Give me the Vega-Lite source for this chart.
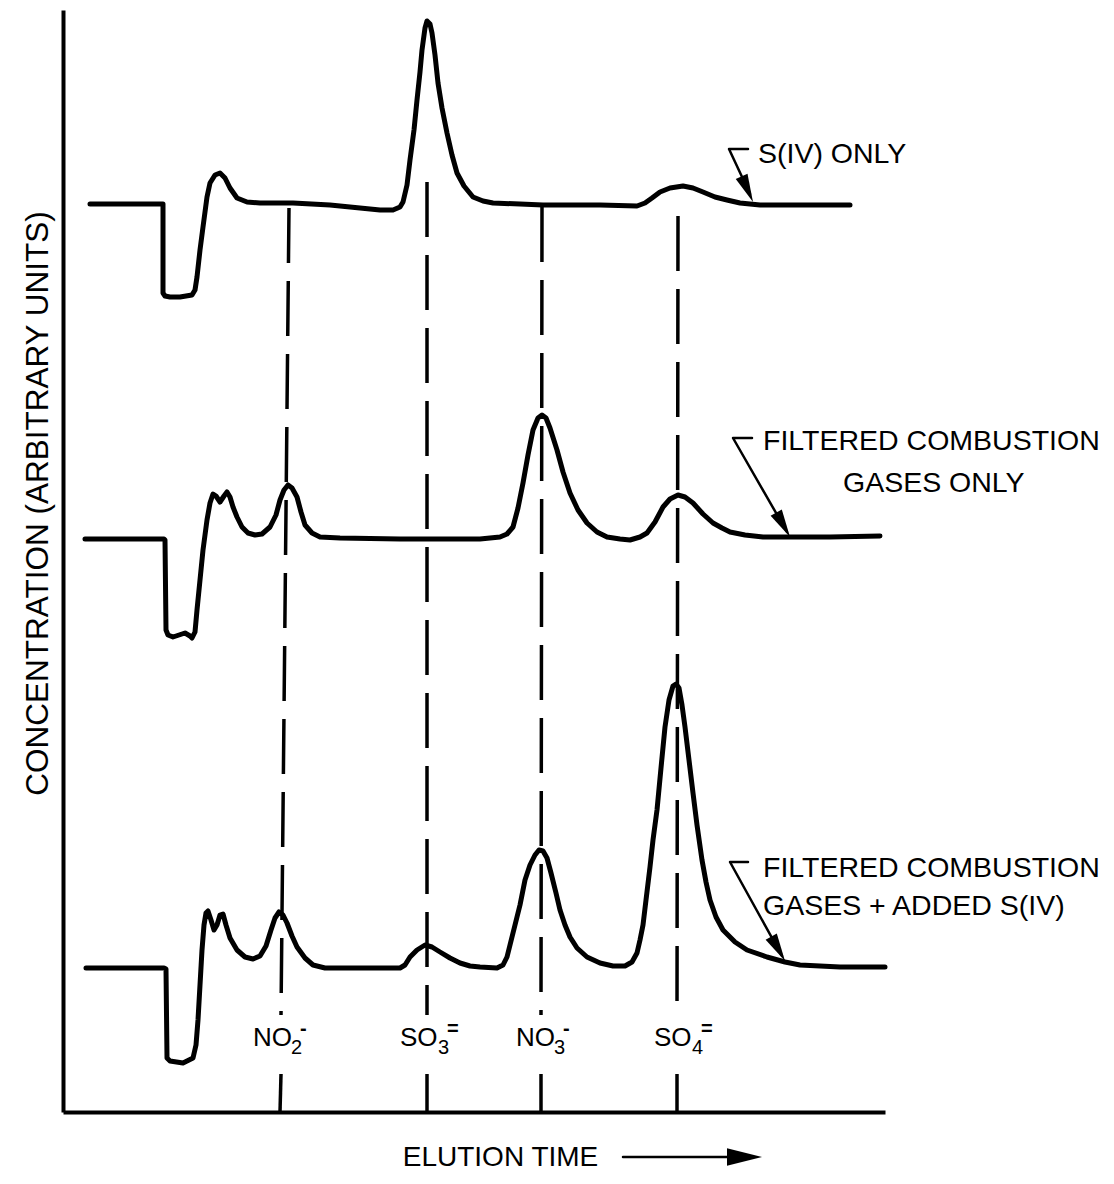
{
  "$schema": "https://vega.github.io/schema/vega-lite/v6.json",
  "width": 822,
  "height": 1102,
  "autosize": {"type": "none"},
  "padding": {"left": 63, "top": 10, "right": 229, "bottom": 72},
  "background": "white",
  "config": {
    "view": {"stroke": null},
    "font": "Liberation Sans",
    "axis": {
      "ticks": false, "labels": false, "grid": false,
      "domainColor": "black", "domainWidth": 4,
      "titleFont": "Liberation Sans", "titleFontSize": 28,
      "titleFontWeight": "normal", "titleColor": "black"
    }
  },
  "datasets": {
    "traces": [
      {"s":"a","x":90,"y":908},{"s":"a","x":160,"y":908},{"s":"a","x":163,"y":908},{"s":"a","x":163,"y":819},{"s":"a","x":165,"y":816},{"s":"a","x":170,"y":815},{"s":"a","x":180,"y":815},{"s":"a","x":192,"y":817},{"s":"a","x":195,"y":822},{"s":"a","x":197,"y":835},{"s":"a","x":200,"y":862},{"s":"a","x":203,"y":885},{"s":"a","x":207,"y":915},{"s":"a","x":210,"y":929},{"s":"a","x":215,"y":937},{"s":"a","x":220,"y":939},{"s":"a","x":225,"y":934},{"s":"a","x":230,"y":924},{"s":"a","x":237,"y":914},{"s":"a","x":247,"y":910},{"s":"a","x":260,"y":909},{"s":"a","x":293,"y":909},{"s":"a","x":330,"y":907},{"s":"a","x":360,"y":904},{"s":"a","x":380,"y":902},{"s":"a","x":393,"y":902},{"s":"a","x":400,"y":905},{"s":"a","x":403,"y":910},{"s":"a","x":407,"y":927},{"s":"a","x":410,"y":952},{"s":"a","x":414,"y":982},{"s":"a","x":417,"y":1012},{"s":"a","x":420,"y":1040},{"s":"a","x":422,"y":1062},{"s":"a","x":425,"y":1084},{"s":"a","x":427,"y":1091},{"s":"a","x":430,"y":1088},{"s":"a","x":432,"y":1079},{"s":"a","x":435,"y":1057},{"s":"a","x":438,"y":1029},{"s":"a","x":442,"y":1004},{"s":"a","x":447,"y":979},{"s":"a","x":452,"y":957},{"s":"a","x":457,"y":939},{"s":"a","x":464,"y":926},{"s":"a","x":473,"y":915},{"s":"a","x":483,"y":911},{"s":"a","x":493,"y":909},{"s":"a","x":520,"y":908},{"s":"a","x":543,"y":907},{"s":"a","x":600,"y":907},{"s":"a","x":637,"y":906},{"s":"a","x":645,"y":909},{"s":"a","x":652,"y":914},{"s":"a","x":660,"y":920},{"s":"a","x":670,"y":924},{"s":"a","x":683,"y":926},{"s":"a","x":693,"y":924},{"s":"a","x":703,"y":920},{"s":"a","x":715,"y":915},{"s":"a","x":727,"y":912},{"s":"a","x":740,"y":909},{"s":"a","x":760,"y":907},{"s":"a","x":800,"y":907},{"s":"a","x":850,"y":907},
      {"s":"b","x":85,"y":573},{"s":"b","x":164,"y":573},{"s":"b","x":165,"y":572},{"s":"b","x":166,"y":482},{"s":"b","x":168,"y":477},{"s":"b","x":173,"y":475},{"s":"b","x":179,"y":477},{"s":"b","x":185,"y":479},{"s":"b","x":190,"y":476},{"s":"b","x":192,"y":474},{"s":"b","x":195,"y":480},{"s":"b","x":197,"y":502},{"s":"b","x":200,"y":532},{"s":"b","x":203,"y":562},{"s":"b","x":207,"y":592},{"s":"b","x":210,"y":609},{"s":"b","x":213,"y":618},{"s":"b","x":216,"y":616},{"s":"b","x":220,"y":610},{"s":"b","x":224,"y":616},{"s":"b","x":227,"y":620},{"s":"b","x":230,"y":615},{"s":"b","x":233,"y":605},{"s":"b","x":237,"y":595},{"s":"b","x":242,"y":585},{"s":"b","x":248,"y":579},{"s":"b","x":255,"y":577},{"s":"b","x":262,"y":578},{"s":"b","x":270,"y":585},{"s":"b","x":276,"y":597},{"s":"b","x":280,"y":612},{"s":"b","x":284,"y":622},{"s":"b","x":288,"y":627},{"s":"b","x":292,"y":624},{"s":"b","x":297,"y":615},{"s":"b","x":301,"y":600},{"s":"b","x":305,"y":587},{"s":"b","x":312,"y":579},{"s":"b","x":320,"y":575},{"s":"b","x":340,"y":574},{"s":"b","x":400,"y":573},{"s":"b","x":480,"y":573},{"s":"b","x":500,"y":575},{"s":"b","x":507,"y":578},{"s":"b","x":513,"y":585},{"s":"b","x":518,"y":604},{"s":"b","x":523,"y":629},{"s":"b","x":528,"y":657},{"s":"b","x":533,"y":682},{"s":"b","x":538,"y":694},{"s":"b","x":542,"y":697},{"s":"b","x":546,"y":694},{"s":"b","x":550,"y":684},{"s":"b","x":557,"y":662},{"s":"b","x":563,"y":640},{"s":"b","x":570,"y":619},{"s":"b","x":578,"y":602},{"s":"b","x":587,"y":589},{"s":"b","x":597,"y":580},{"s":"b","x":607,"y":575},{"s":"b","x":620,"y":573},{"s":"b","x":630,"y":572},{"s":"b","x":640,"y":575},{"s":"b","x":647,"y":579},{"s":"b","x":655,"y":590},{"s":"b","x":663,"y":605},{"s":"b","x":670,"y":613},{"s":"b","x":678,"y":617},{"s":"b","x":685,"y":615},{"s":"b","x":693,"y":609},{"s":"b","x":703,"y":598},{"s":"b","x":713,"y":589},{"s":"b","x":722,"y":584},{"s":"b","x":730,"y":580},{"s":"b","x":745,"y":577},{"s":"b","x":763,"y":575},{"s":"b","x":790,"y":575},{"s":"b","x":830,"y":575},{"s":"b","x":880,"y":576},
      {"s":"c","x":86,"y":144},{"s":"c","x":164,"y":144},{"s":"c","x":166,"y":143},{"s":"c","x":167,"y":54},{"s":"c","x":170,"y":51},{"s":"c","x":183,"y":49},{"s":"c","x":193,"y":54},{"s":"c","x":196,"y":67},{"s":"c","x":198,"y":92},{"s":"c","x":200,"y":127},{"s":"c","x":202,"y":162},{"s":"c","x":204,"y":187},{"s":"c","x":206,"y":199},{"s":"c","x":208,"y":201},{"s":"c","x":211,"y":192},{"s":"c","x":214,"y":182},{"s":"c","x":217,"y":187},{"s":"c","x":220,"y":197},{"s":"c","x":223,"y":198},{"s":"c","x":226,"y":187},{"s":"c","x":230,"y":174},{"s":"c","x":237,"y":162},{"s":"c","x":245,"y":155},{"s":"c","x":253,"y":153},{"s":"c","x":260,"y":156},{"s":"c","x":266,"y":166},{"s":"c","x":271,"y":182},{"s":"c","x":275,"y":194},{"s":"c","x":279,"y":200},{"s":"c","x":283,"y":197},{"s":"c","x":287,"y":189},{"s":"c","x":292,"y":176},{"s":"c","x":297,"y":165},{"s":"c","x":305,"y":154},{"s":"c","x":313,"y":147},{"s":"c","x":325,"y":144},{"s":"c","x":343,"y":144},{"s":"c","x":400,"y":144},{"s":"c","x":405,"y":147},{"s":"c","x":410,"y":155},{"s":"c","x":417,"y":162},{"s":"c","x":425,"y":167},{"s":"c","x":432,"y":165},{"s":"c","x":440,"y":160},{"s":"c","x":450,"y":154},{"s":"c","x":460,"y":149},{"s":"c","x":470,"y":146},{"s":"c","x":480,"y":145},{"s":"c","x":497,"y":144},{"s":"c","x":503,"y":147},{"s":"c","x":507,"y":155},{"s":"c","x":510,"y":167},{"s":"c","x":515,"y":187},{"s":"c","x":520,"y":207},{"s":"c","x":525,"y":232},{"s":"c","x":530,"y":247},{"s":"c","x":535,"y":257},{"s":"c","x":539,"y":262},{"s":"c","x":543,"y":261},{"s":"c","x":547,"y":254},{"s":"c","x":551,"y":239},{"s":"c","x":556,"y":219},{"s":"c","x":560,"y":202},{"s":"c","x":565,"y":187},{"s":"c","x":570,"y":175},{"s":"c","x":577,"y":164},{"s":"c","x":587,"y":155},{"s":"c","x":600,"y":149},{"s":"c","x":613,"y":146},{"s":"c","x":625,"y":146},{"s":"c","x":632,"y":150},{"s":"c","x":637,"y":159},{"s":"c","x":640,"y":172},{"s":"c","x":643,"y":187},{"s":"c","x":646,"y":212},{"s":"c","x":650,"y":245},{"s":"c","x":653,"y":272},{"s":"c","x":657,"y":302},{"s":"c","x":661,"y":344},{"s":"c","x":665,"y":385},{"s":"c","x":669,"y":412},{"s":"c","x":673,"y":426},{"s":"c","x":676,"y":428},{"s":"c","x":679,"y":424},{"s":"c","x":682,"y":407},{"s":"c","x":685,"y":385},{"s":"c","x":689,"y":352},{"s":"c","x":693,"y":319},{"s":"c","x":697,"y":287},{"s":"c","x":702,"y":252},{"s":"c","x":706,"y":230},{"s":"c","x":710,"y":212},{"s":"c","x":716,"y":195},{"s":"c","x":723,"y":182},{"s":"c","x":735,"y":170},{"s":"c","x":747,"y":162},{"s":"c","x":767,"y":155},{"s":"c","x":785,"y":150},{"s":"c","x":800,"y":147},{"s":"c","x":840,"y":145},{"s":"c","x":885,"y":145}
    ],
    "dashes": [
      {"seg":"NO2a","x":289,"y":904},{"seg":"NO2a","x":281,"y":97},
      {"seg":"NO2b","x":281,"y":38},{"seg":"NO2b","x":280,"y":0},
      {"seg":"SO3a","x":427,"y":930},{"seg":"SO3a","x":427,"y":97},
      {"seg":"SO3b","x":427,"y":38},{"seg":"SO3b","x":427,"y":0},
      {"seg":"NO3a","x":542,"y":905},{"seg":"NO3a","x":541,"y":97},
      {"seg":"NO3b","x":541,"y":38},{"seg":"NO3b","x":541,"y":0},
      {"seg":"SO4a","x":678,"y":896},{"seg":"SO4a","x":677,"y":97},
      {"seg":"SO4b","x":677,"y":38},{"seg":"SO4b","x":677,"y":0}
    ],
    "pointers": [
      {"id":"p1","x":748,"y":963},{"id":"p1","x":729,"y":963},{"id":"p1","x":750,"y":918},
      {"id":"p2","x":752,"y":674},{"id":"p2","x":733,"y":674},{"id":"p2","x":787,"y":580},
      {"id":"p3","x":748,"y":250},{"id":"p3","x":730,"y":250},{"id":"p3","x":782,"y":156},
      {"id":"t","x":623,"y":-45},{"id":"t","x":750,"y":-45}
    ],
    "heads": [
      {"id":"p1","x":753,"y":910},
      {"id":"p2","x":790,"y":575},
      {"id":"p3","x":785,"y":151},
      {"id":"t","x":762,"y":-45}
    ],
    "labels": [
      {"x":758,"y":949,"text":"S(IV) ONLY"},
      {"x":763,"y":662,"text":"FILTERED COMBUSTION"},
      {"x":843,"y":620,"text":"GASES ONLY"},
      {"x":763,"y":235,"text":"FILTERED COMBUSTION"},
      {"x":763,"y":197,"text":"GASES + ADDED S(IV)"}
    ],
    "ions": [
      {"x":253,"y":66,"main":"NO","sub":"2","sup":"-"},
      {"x":400,"y":66,"main":"SO","sub":"3","sup":"="},
      {"x":516,"y":66,"main":"NO","sub":"3","sup":"-"},
      {"x":654,"y":66,"main":"SO","sub":"4","sup":"="}
    ]
  },
  "encoding": {
    "x": {
      "field": "x", "type": "quantitative",
      "scale": {"domain": [63, 885], "nice": false, "zero": false},
      "axis": {"title": "ELUTION TIME", "titleX": 437, "titleY": 53, "titleAlign": "center", "titleBaseline": "alphabetic"}
    },
    "y": {
      "field": "y", "type": "quantitative",
      "scale": {"domain": [0, 1102], "nice": false, "zero": false},
      "axis": {"title": "CONCENTRATION (ARBITRARY UNITS)", "titleFontSize": 31.5, "titleX": -16, "titleY": 493, "titleAngle": -90, "titleAlign": "center", "titleBaseline": "alphabetic"}
    }
  },
  "layer": [
    {
      "data": {"name": "traces"},
      "mark": {"type": "line", "color": "black", "strokeWidth": 5, "strokeJoin": "round", "strokeCap": "round", "clip": false},
      "encoding": {"detail": {"field": "s"}, "order": {"value": null}}
    },
    {
      "data": {"name": "dashes"},
      "mark": {"type": "line", "color": "black", "strokeWidth": 3.5, "strokeDash": [55, 18], "strokeCap": "butt", "clip": false},
      "encoding": {"detail": {"field": "seg"}, "order": {"value": null}}
    },
    {
      "data": {"name": "pointers"},
      "mark": {"type": "line", "color": "black", "strokeWidth": 2.5, "strokeJoin": "round", "strokeCap": "round", "clip": false},
      "encoding": {"detail": {"field": "id"}, "order": {"value": null}}
    },
    {
      "data": {"name": "heads"},
      "transform": [{"filter": "datum.id === 'p1'"}],
      "mark": {"type": "point", "shape": "M0,0L-2,-0.46L-2,0.46Z", "filled": true, "color": "black", "opacity": 1, "size": 784, "angle": 66, "clip": false}
    },
    {
      "data": {"name": "heads"},
      "transform": [{"filter": "datum.id === 'p2' || datum.id === 'p3'"}],
      "mark": {"type": "point", "shape": "M0,0L-2,-0.46L-2,0.46Z", "filled": true, "color": "black", "opacity": 1, "size": 784, "angle": 60.5, "clip": false}
    },
    {
      "data": {"name": "heads"},
      "transform": [{"filter": "datum.id === 't'"}],
      "mark": {"type": "point", "shape": "M0,0L-2,-0.5L-2,0.5Z", "filled": true, "color": "black", "opacity": 1, "size": 1225, "angle": 0, "clip": false}
    },
    {
      "data": {"name": "labels"},
      "mark": {"type": "text", "align": "left", "baseline": "alphabetic", "fontSize": 28.5, "font": "Liberation Sans", "color": "black"},
      "encoding": {"text": {"field": "text"}}
    },
    {
      "data": {"name": "ions"},
      "mark": {"type": "text", "align": "left", "baseline": "alphabetic", "fontSize": 26, "font": "Liberation Sans", "color": "black"},
      "encoding": {"text": {"field": "main"}}
    },
    {
      "data": {"name": "ions"},
      "mark": {"type": "text", "align": "left", "baseline": "alphabetic", "fontSize": 20, "font": "Liberation Sans", "color": "black", "dx": 38, "dy": 8},
      "encoding": {"text": {"field": "sub"}}
    },
    {
      "data": {"name": "ions"},
      "mark": {"type": "text", "align": "left", "baseline": "alphabetic", "fontSize": 20, "fontWeight": "bold", "font": "Liberation Sans", "color": "black", "dx": 47, "dy": -11},
      "encoding": {"text": {"field": "sup"}}
    }
  ]
}
